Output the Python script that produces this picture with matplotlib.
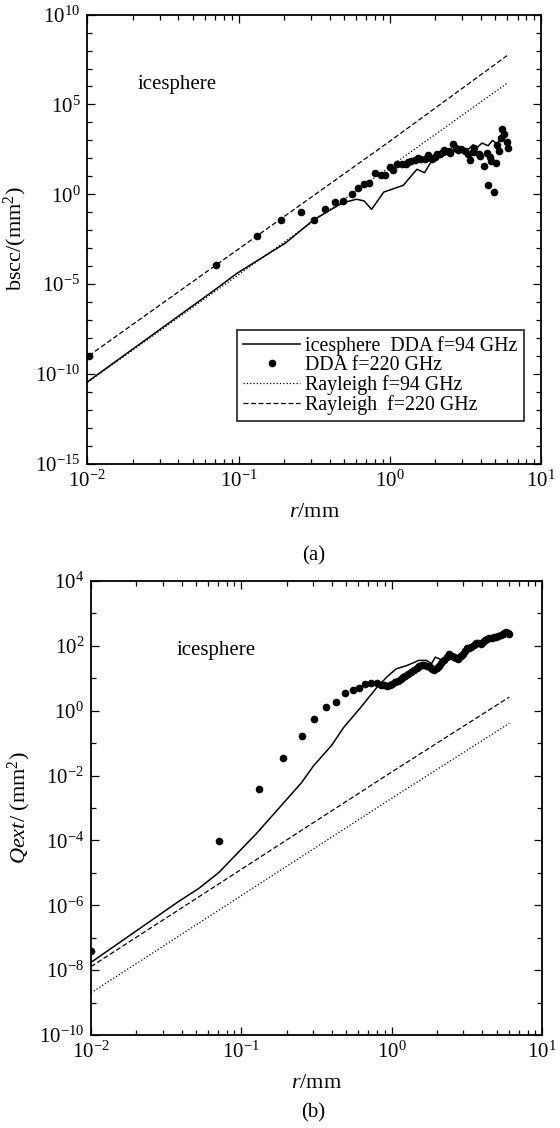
import numpy as np
import matplotlib
matplotlib.use('Agg')
import matplotlib.pyplot as plt
from matplotlib.ticker import LogLocator, NullFormatter

plt.rcParams['font.family'] = ['Liberation Serif', 'DejaVu Serif']
plt.rcParams['mathtext.fontset'] = 'custom'
plt.rcParams['mathtext.rm'] = 'Liberation Serif'
plt.rcParams['mathtext.it'] = 'Liberation Serif:italic'
plt.rcParams['mathtext.default'] = 'regular'
plt.rcParams['axes.unicode_minus'] = False

# ---- panel (a): backscatter cross section, values as log10
a_dda94_logr = [-2.0, -1.16, -1.01, -0.69, -0.50, -0.31, -0.22, -0.17, -0.12, -0.04,
                0.04, 0.09, 0.16, 0.18, 0.23, 0.27, 0.31, 0.36, 0.40, 0.45, 0.52,
                0.55, 0.58, 0.61, 0.65, 0.68, 0.71, 0.73, 0.75, 0.77]
a_dda94_logy = [-10.45, -5.34, -4.40, -2.72, -1.40, -0.47, -0.28, -0.37, -0.84, 0.12,
                0.35, 0.50, 1.20, 1.39, 1.20, 1.76, 1.90, 2.31, 2.13, 2.60, 2.50,
                2.75, 2.62, 2.85, 2.70, 3.00, 2.80, 3.06, 3.43, 3.24]

a_dda220_logr = [-1.99, -1.15, -0.88, -0.72, -0.59, -0.50, -0.43, -0.36, -0.31, -0.25,
                 -0.21, -0.17, -0.14, -0.10, -0.06, -0.03, 0.00, 0.02, 0.05, 0.08,
                 0.11, 0.14, 0.17, 0.20, 0.23, 0.25, 0.28, 0.31, 0.33, 0.36, 0.39,
                 0.42, 0.44, 0.47, 0.50, 0.52, 0.53, 0.56, 0.59, 0.60, 0.62, 0.64,
                 0.65, 0.67, 0.69, 0.70, 0.71, 0.72, 0.735, 0.745, 0.757, 0.775, 0.78,
                 0.26, 0.35, 0.45, 0.55, 0.66, 0.12, 0.19, 0.30, 0.40]
a_dda220_logy = [-8.99, -3.93, -2.34, -1.44, -0.98, -1.45, -0.80, -0.41, -0.37, 0.04,
                 0.33, 0.59, 0.61, 1.17, 1.06, 1.06, 1.54, 1.33, 1.70, 1.67,
                 1.67, 1.85, 1.91, 1.94, 1.98, 2.17, 1.94, 2.22, 2.26, 2.46, 2.41,
                 2.78, 2.59, 2.50, 2.41, 2.22, 1.91, 2.59, 2.22, 2.13, 1.57, 2.31,
                 0.52, 1.85, 0.15, 1.76, 2.72, 2.41, 3.15, 3.61, 3.33, 2.91, 2.59,
                 2.05, 2.35, 2.45, 2.35, 2.10, 1.78, 2.00, 2.10, 2.30]

a_ray94_logr = [-2.0, -1.0, 0.0, 0.776]
a_ray94_logy = [-10.48, -4.48, 1.52, 6.18]
a_ray220_logr = [-1.99, -1.0, 0.0, 0.776]
a_ray220_logy = [-8.99, -3.05, 2.95, 7.72]

# ---- panel (b): extinction
b_dda94_logr = [-2.0, -1.42, -1.28, -1.15, -0.90, -0.73, -0.60, -0.52, -0.40, -0.32,
                -0.21, -0.10, -0.03, 0.03, 0.10, 0.18, 0.23, 0.265, 0.29, 0.34,
                0.38, 0.41, 0.45, 0.50, 0.55, 0.60, 0.65, 0.70, 0.74, 0.775]
b_dda94_logy = [-7.76, -5.89, -5.47, -4.99, -3.79, -2.90, -2.22, -1.70, -1.07, -0.52,
                0.08, 0.71, 1.05, 1.29, 1.39, 1.55, 1.55, 1.45, 1.65, 1.55,
                1.71, 1.55, 1.75, 1.90, 2.05, 2.10, 2.22, 2.28, 2.35, 2.44]

b_dda220_logr = [-2.0, -1.15, -0.885, -0.72, -0.60, -0.52, -0.44, -0.37, -0.31, -0.26,
                 -0.22, -0.18, -0.14, -0.10, -0.07, -0.05, -0.03, -0.01, 0.003, 0.02,
                 0.04, 0.06, 0.075, 0.09, 0.11, 0.13, 0.146, 0.165, 0.18, 0.20, 0.217,
                 0.235, 0.253, 0.27, 0.284, 0.30, 0.312, 0.33, 0.348, 0.365, 0.383,
                 0.40, 0.412, 0.43, 0.443, 0.46, 0.473, 0.49, 0.502, 0.515, 0.53,
                 0.545, 0.561, 0.575, 0.592, 0.605, 0.62, 0.635, 0.649, 0.665, 0.68,
                 0.695, 0.71, 0.725, 0.739, 0.75, 0.763, 0.775, 0.782]
b_dda220_logy = [-7.40, -4.02, -2.43, -1.45, -0.79, -0.25, 0.12, 0.28, 0.53, 0.64,
                 0.69, 0.82, 0.85, 0.85, 0.80, 0.78, 0.76, 0.78, 0.82, 0.87,
                 0.92, 0.98, 1.03, 1.08, 1.13, 1.18, 1.24, 1.31, 1.39, 1.40, 1.41,
                 1.37, 1.34, 1.30, 1.26, 1.33, 1.39, 1.47, 1.55, 1.65, 1.74,
                 1.70, 1.65, 1.62, 1.60, 1.68, 1.76, 1.85, 1.92, 1.94, 1.97,
                 2.03, 2.09, 2.08, 2.07, 2.12, 2.18, 2.20, 2.23, 2.25, 2.26,
                 2.28, 2.30, 2.34, 2.37, 2.39, 2.41, 2.40, 2.37]

b_ray94_logr = [-2.0, -1.0, 0.0, 0.782]
b_ray94_logy = [-8.70, -5.70, -2.70, -0.39]
b_ray220_logr = [-2.0, -1.0, 0.0, 0.782]
b_ray220_logy = [-7.89, -4.89, -1.89, 0.42]


def p10(v):
    return 10.0 ** np.array(v)


def style_axes(ax, ylim, ystep):
    ax.set_xscale('log')
    ax.set_yscale('log')
    ax.set_xlim(1e-2, 1e1)
    ax.set_ylim(*ylim)
    lo, hi = np.log10(ylim[0]), np.log10(ylim[1])
    ax.set_yticks(10.0 ** np.arange(lo, hi + 0.1, ystep))
    ax.yaxis.set_minor_locator(LogLocator(base=10, subs=[], numticks=30))
    ax.yaxis.set_minor_formatter(NullFormatter())
    ax.xaxis.set_major_locator(LogLocator(base=10, numticks=10))
    ax.xaxis.set_minor_locator(LogLocator(base=10, subs=np.arange(2, 10), numticks=30))
    ax.tick_params(which='both', direction='in', top=True, right=True,
                   labelsize=15, width=0.9)
    ax.tick_params(which='major', length=6, pad=5)
    ax.tick_params(which='minor', length=3.5)
    for s in ax.spines.values():
        s.set_linewidth(1.3)


fig = plt.figure(figsize=(5.6, 11.28), dpi=100)
ax1 = fig.add_axes([0.156, 0.589, 0.810, 0.398])
ax2 = fig.add_axes([0.1625, 0.0824, 0.8055, 0.4026])

# (a)
ax1.plot(p10(a_dda94_logr), p10(a_dda94_logy), '-', color='black', lw=1.1,
         label='icesphere  DDA f=94 GHz')
ax1.plot(p10(a_dda220_logr), p10(a_dda220_logy), 'o', color='black', ms=4.5,
         label='DDA f=220 GHz')
ax1.plot(p10(a_ray94_logr), p10(a_ray94_logy), ':', color='black', lw=0.9,
         label='Rayleigh f=94 GHz')
ax1.plot(p10(a_ray220_logr), p10(a_ray220_logy), '--', color='black', lw=0.9,
         dashes=(4, 2), label='Rayleigh  f=220 GHz')
style_axes(ax1, (1e-15, 1e10), 5)
ax1.set_xlabel('$\\it{r}$/mm', fontsize=16, labelpad=8)
ax1.set_ylabel('bscc/(mm$^2$)', fontsize=16, labelpad=4)
ax1.text(0.11, 0.844, 'icesphere', transform=ax1.transAxes, fontsize=15, va='center')
leg = ax1.legend(loc='lower right', bbox_to_anchor=(0.962, 0.095), fontsize=14.3,
                 frameon=True, fancybox=False, edgecolor='black', handlelength=2.9,
                 handletextpad=0.25, borderpad=0.3, labelspacing=0.0,
                 borderaxespad=0)
leg.get_frame().set_linewidth(1.3)
fig.text(0.56, 1 - 556 / 1128, '(a)', ha='center', va='center', fontsize=15)

# (b)
ax2.plot(p10(b_dda94_logr), p10(b_dda94_logy), '-', color='black', lw=1.1)
ax2.plot(p10(b_dda220_logr), p10(b_dda220_logy), 'o', color='black', ms=4.5)
ax2.plot(p10(b_ray94_logr), p10(b_ray94_logy), ':', color='black', lw=0.9)
ax2.plot(p10(b_ray220_logr), p10(b_ray220_logy), '--', color='black', lw=0.9,
         dashes=(4, 2))
style_axes(ax2, (1e-10, 1e4), 2)
ax2.set_xlabel('$\\it{r}$/mm', fontsize=16, labelpad=8)
ax2.set_ylabel('$\\it{Qext}$/ (mm$^2$)', fontsize=16, labelpad=4)
ax2.text(0.19, 0.846, 'icesphere', transform=ax2.transAxes, fontsize=15, va='center')
fig.text(0.56, 1 - 1113 / 1128, '(b)', ha='center', va='center', fontsize=15)

fig.savefig('out.png', dpi=100)
